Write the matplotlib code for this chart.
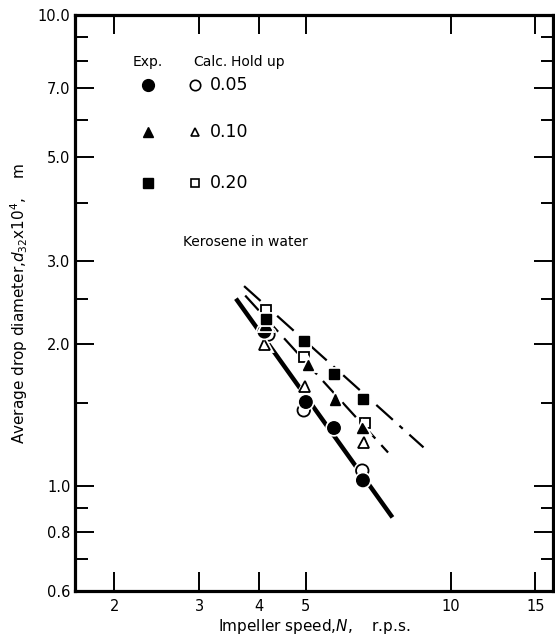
import matplotlib
matplotlib.use("Agg")
import matplotlib.pyplot as plt
import matplotlib.patheffects as pe
from matplotlib.ticker import FixedLocator, FixedFormatter, NullFormatter

plt.rcParams['font.family'] = ['DejaVu Sans']

# hold up fractions
holdup = ['0.05', '0.10', '0.20']

# experimental points (impeller speed N r.p.s., d32 x 10^4 m)
exp_n = [
    [4.10, 5.0, 5.72, 6.57],
    [4.12, 5.05, 5.75, 6.55],
    [4.14, 4.95, 5.72, 6.57],
]
exp_d = [
    [2.13, 1.51, 1.33, 1.03],
    [2.20, 1.81, 1.53, 1.33],
    [2.27, 2.03, 1.73, 1.53],
]

# calculated points
calc_n = [
    [4.18, 4.95, 6.55],
    [4.10, 4.97, 6.60],
    [4.14, 4.95, 6.62],
]
calc_d = [
    [2.10, 1.45, 1.08],
    [2.00, 1.63, 1.24],
    [2.37, 1.88, 1.36],
]

# correlation lines (end points)
line_n = [[3.60, 7.52], [3.74, 7.41], [3.72, 8.78]]
line_d = [[2.48, 0.867], [2.54, 1.18], [2.66, 1.21]]

markers = ['o', '^', 's']
msizes = [9, 7.8, 7.2]
line_styles = ['-', (0, (9, 4)), (0, (10, 4, 2, 4))]
line_widths = [3.2, 1.6, 1.6]

xticks = [2, 3, 4, 5, 10, 15]
yticks_major = [0.6, 0.8, 1.0, 2.0, 3.0, 5.0, 7.0, 10.0]
yticks_minor = [0.7, 0.9, 1.5, 2.5, 4, 6, 8, 9]

fig = plt.figure(figsize=(5.55, 6.43), dpi=100)
ax = fig.add_axes([0.136, 0.0809, 0.86, 0.8958])
ax.set_xscale('log')
ax.set_yscale('log')
ax.set_xlim(1.66, 16.3)
ax.set_ylim(0.6, 10.0)

halo = [pe.withStroke(linewidth=3.5, foreground='white')]

for i in range(3):
    ax.plot(line_n[i], line_d[i], color='black', linestyle=line_styles[i],
            linewidth=line_widths[i], zorder=2)
for i in range(3):
    ax.plot(calc_n[i], calc_d[i], linestyle='none', marker=markers[i],
            markersize=msizes[i], markerfacecolor='white',
            markeredgecolor='black', markeredgewidth=1.3, zorder=3,
            path_effects=halo)
    ax.plot(exp_n[i], exp_d[i], linestyle='none', marker=markers[i],
            markersize=msizes[i], color='black', zorder=4,
            path_effects=halo)

# legend block
ax.text(0.152, 0.918, 'Exp.', transform=ax.transAxes, ha='center', va='center', fontsize=10)
ax.text(0.282, 0.918, 'Calc.', transform=ax.transAxes, ha='center', va='center', fontsize=10)
ax.text(0.326, 0.918, 'Hold up', transform=ax.transAxes, ha='left', va='center', fontsize=10)
row_y = [0.878, 0.797, 0.708]
for i in range(3):
    ax.plot([0.152], [row_y[i]], transform=ax.transAxes, marker=markers[i],
            markersize=msizes[i] - 0.5, color='black', linestyle='none')
    ax.plot([0.251], [row_y[i]], transform=ax.transAxes, marker=markers[i],
            markersize=msizes[i] - 1.5, markerfacecolor='white',
            markeredgecolor='black', markeredgewidth=1.2, linestyle='none')
    ax.text(0.282, row_y[i], holdup[i], transform=ax.transAxes,
            ha='left', va='center', fontsize=12.5)
ax.text(0.225, 0.606, 'Kerosene in water', transform=ax.transAxes,
        ha='left', va='center', fontsize=10)

# ticks
ax.xaxis.set_major_locator(FixedLocator(xticks))
ax.xaxis.set_major_formatter(FixedFormatter([str(t) for t in xticks]))
ax.xaxis.set_minor_locator(FixedLocator([]))
ax.yaxis.set_major_locator(FixedLocator(yticks_major))
ax.yaxis.set_major_formatter(FixedFormatter(['%.1f' % t for t in yticks_major]))
ax.yaxis.set_minor_locator(FixedLocator(yticks_minor))
ax.yaxis.set_minor_formatter(NullFormatter())
ax.tick_params(axis='both', which='major', direction='in', top=True, right=True,
               length=14, width=1.4, labelsize=10.5)
ax.tick_params(axis='y', which='minor', direction='in', right=True,
               length=9, width=1.4)
ax.tick_params(axis='x', which='major', pad=6)

for s in ax.spines.values():
    s.set_linewidth(2.3)

ax.set_xlabel('Impeller speed,$N$,    r.p.s.', fontsize=11, labelpad=2)
ax.set_ylabel('Average drop diameter,$d_{32}$x10$^4$,    m', fontsize=11, labelpad=6)

fig.savefig('out.png', dpi=100)
